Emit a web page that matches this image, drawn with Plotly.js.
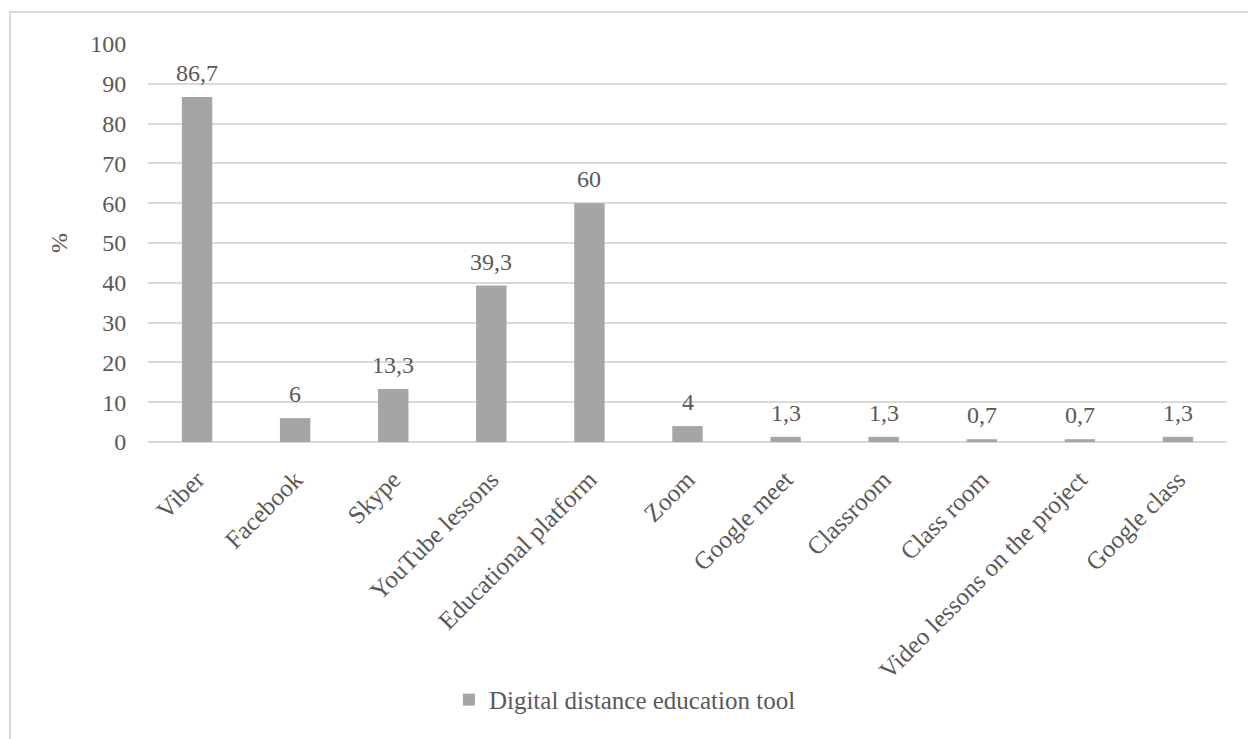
<!DOCTYPE html>
<html>
<head>
<meta charset="utf-8">
<script src="https://cdn.plot.ly/plotly-3.0.1.min.js"></script>
<style>
  html, body { margin: 0; padding: 0; background: #fff; width: 1248px; height: 739px; overflow: hidden; }
  #frame { position: absolute; left: 9px; top: 11px; width: 1239px; height: 728px;
           border-left: 2px solid #d9d9d9; border-top: 2px solid #d9d9d9; }
  #chart { position: absolute; left: 0; top: 0; width: 1239px; height: 728px; }
</style>
</head>
<body>
<div id="frame"><div id="chart"></div></div>
<script>
const categories = ["Viber", "Facebook", "Skype", "YouTube lessons", "Educational platform", "Zoom",
  "Google meet", "Classroom", "Class room", "Video lessons on the project", "Google class"];
const values = [86.7, 6, 13.3, 39.3, 60, 4, 1.3, 1.3, 0.7, 0.7, 1.3];
const seriesName = "Digital distance education tool";
const yTicks = [0, 10, 20, 30, 40, 50, 60, 70, 80, 90, 100];

const labels = values.map(v => String(v).replace('.', ','));
const FAM = 'Liberation Serif';
const TXT = '#595959';
const font = { family: FAM, size: 24, color: TXT };

const trace = {
  type: 'bar',
  x: categories,
  y: values,
  name: seriesName,
  marker: { color: '#a5a5a5' },
  hoverinfo: 'x+y',
  showlegend: true
};

const annotations = categories.map((c, i) => ({
  x: c, y: values[i], xref: 'x', yref: 'y',
  text: labels[i], showarrow: false,
  xanchor: 'center', yanchor: 'bottom', yshift: 9,
  font: font
}));

const layout = {
  width: 1239, height: 728,
  margin: { l: 137, r: 23, t: 31, b: 299, pad: 0, autoexpand: false },
  paper_bgcolor: 'rgba(0,0,0,0)',
  plot_bgcolor: 'rgba(0,0,0,0)',
  font: font,
  bargap: 0.69,
  showlegend: true,
  annotations: annotations,
  legend: {
    orientation: 'h', x: 0.442, xanchor: 'center', y: -0.648, yanchor: 'middle',
    font: { family: FAM, size: 25, color: TXT }
  },
  xaxis: {
    type: 'category',
    tickangle: -45,
    tickfont: { family: FAM, size: 25, color: TXT },
    showgrid: false, showline: false, zeroline: false,
    ticks: 'outside', ticklen: 12, tickcolor: 'rgba(0,0,0,0)',
    automargin: false
  },
  yaxis: {
    range: [0, 100],
    tickvals: yTicks,
    ticktext: yTicks.map(String),
    tickfont: { family: FAM, size: 24, color: TXT },
    showgrid: true, gridcolor: '#d9d9d9', gridwidth: 2,
    zeroline: true, zerolinecolor: '#d9d9d9', zerolinewidth: 2,
    showline: false, ticks: 'outside', ticklen: 16, tickcolor: 'rgba(0,0,0,0)',
    title: { text: '%', font: { family: FAM, size: 24, color: TXT }, standoff: 15 },
    automargin: false
  }
};

Plotly.newPlot('chart', [trace], layout, { displayModeBar: false, staticPlot: true });
</script>
</body>
</html>
